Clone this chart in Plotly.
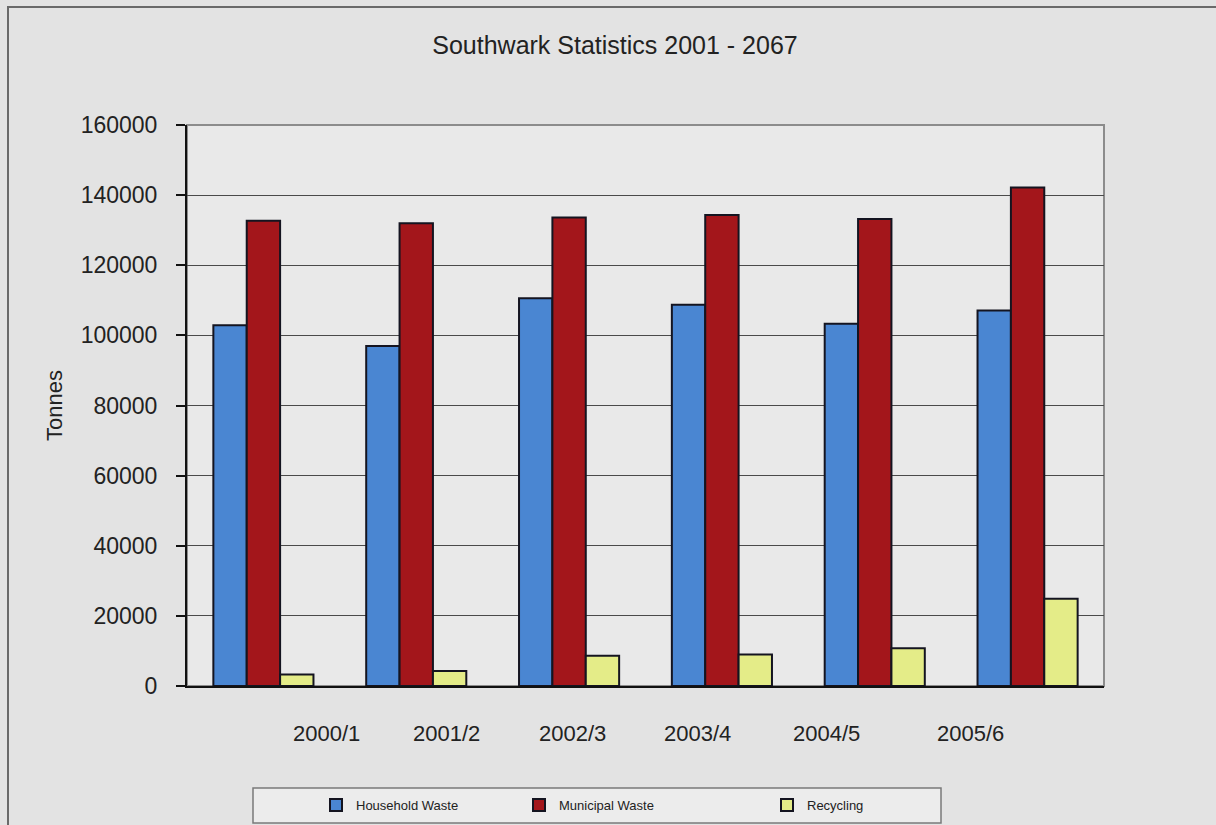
import plotly.graph_objects as go

# Annual tonnages for Southwark, by reporting year
years = ["2000/1", "2001/2", "2002/3", "2003/4", "2004/5", "2005/6"]
household_waste = [102900, 97000, 110600, 108700, 103300, 107100]
municipal_waste = [132700, 132000, 133600, 134300, 133200, 142200]
recycling = [3300, 4300, 8600, 9000, 10800, 24900]

y_ticks = [0, 20000, 40000, 60000, 80000, 100000, 120000, 140000, 160000]

W, H = 1216, 825
PL, PR, PT, PB = 187, 1104, 125, 686   # plot-area edges in pixels
pw, ph = PR - PL, PB - PT


def px_x(px):
    return (px - PL) / pw


def px_y(py):
    return (PB - py) / ph


FONT = "Liberation Sans, Arial, sans-serif"
OUTLINE = dict(color="#141420", width=2)

fig = go.Figure()
fig.add_trace(go.Bar(name="Household Waste", x=years, y=household_waste,
                     marker=dict(color="#4a86d2", line=OUTLINE),
                     legend="legend", showlegend=True))
fig.add_trace(go.Bar(name="Municipal Waste", x=years, y=municipal_waste,
                     marker=dict(color="#a3161b", line=OUTLINE),
                     legend="legend2", showlegend=True))
fig.add_trace(go.Bar(name="Recycling", x=years, y=recycling,
                     marker=dict(color="#e4ec88", line=OUTLINE),
                     legend="legend3", showlegend=True))

# Year labels sit below the axis at their own horizontal positions
label_px = [326, 446, 572, 697, 826, 970]
annotations = [
    dict(text=yr, x=px_x(p), y=px_y(733), xref="paper", yref="paper",
         xanchor="center", yanchor="middle", showarrow=False,
         font=dict(family=FONT, size=22, color="#222"))
    for yr, p in zip(years, label_px)
]

shapes = [
    # outer chart frame
    dict(type="rect", xref="paper", yref="paper", layer="below",
         x0=px_x(8), x1=px_x(1230), y0=px_y(840), y1=px_y(7),
         line=dict(color="#6a6a6a", width=2), fillcolor="rgba(0,0,0,0)"),
    # plot-area border (right/top)
    dict(type="rect", xref="paper", yref="paper", layer="below",
         x0=0, x1=1, y0=0, y1=1,
         line=dict(color="#8c8c8c", width=2), fillcolor="rgba(0,0,0,0)"),
    # legend box
    dict(type="rect", xref="paper", yref="paper", layer="below",
         x0=px_x(253), x1=px_x(941), y0=px_y(823), y1=px_y(788),
         line=dict(color="#7a7a7a", width=1.5), fillcolor="#ececec"),
]

legend_common = dict(orientation="h", yref="container", yanchor="middle",
                     y=1 - 805 / H, xanchor="left",
                     bgcolor="rgba(0,0,0,0)", borderwidth=0,
                     font=dict(family=FONT, size=13, color="#222"))

fig.update_layout(
    width=W, height=H,
    margin=dict(l=PL, r=W - PR, t=PT, b=H - PB, pad=0, autoexpand=False),
    paper_bgcolor="#e3e3e3",
    plot_bgcolor="#e9e9e9",
    showlegend=True,
    barmode="group",
    bargap=0.345,
    bargroupgap=0,
    title=dict(text="Southwark Statistics 2001 - 2067",
               x=px_x(615), xref="paper", xanchor="center",
               y=1 - 45 / H, yref="container", yanchor="middle",
               font=dict(family=FONT, size=25, color="#222")),
    xaxis=dict(showticklabels=False, ticks="", showgrid=False,
               showline=True, linecolor="#111", linewidth=2,
               range=[-0.5, 5.5], zeroline=False),
    yaxis=dict(range=[0, 160000], tickvals=y_ticks,
               ticktext=[str(v) for v in y_ticks],
               ticks="outside", ticklen=9, tickcolor="#111", tickwidth=1.5,
               ticklabelstandoff=14,
               showline=True, linecolor="#111", linewidth=2,
               showgrid=True, gridcolor="#4a4a4a", gridwidth=1.2,
               zeroline=False,
               tickfont=dict(family=FONT, size=23, color="#222"),
               title=dict(text="Tonnes", standoff=12,
                          font=dict(family=FONT, size=22, color="#222"))),
    legend=dict(x=px_x(316), **legend_common),
    legend2=dict(x=px_x(519), **legend_common),
    legend3=dict(x=px_x(767), **legend_common),
    annotations=annotations,
    shapes=shapes,
)

fig.write_html("out.html")
